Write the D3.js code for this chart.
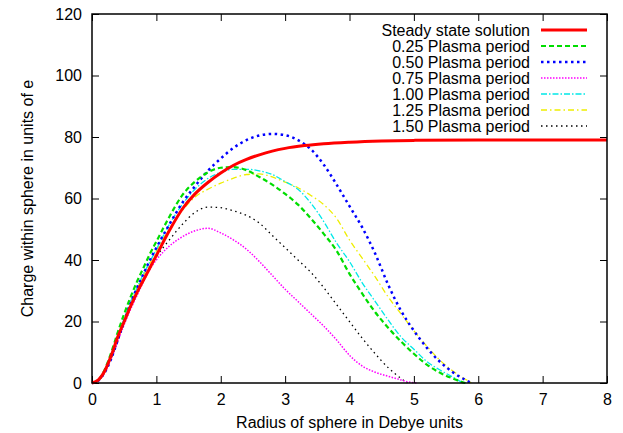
<!DOCTYPE html>
<html>
<head>
<meta charset="utf-8">
<script src="https://cdn.jsdelivr.net/npm/d3@7"></script>
<style>
  body { margin: 0; background: #fff; }
  text { font-family: "Liberation Sans", Arial, sans-serif; font-size: 16px; fill: #000; }
</style>
</head>
<body>
<div id="chart"></div>
<script>
// chart values: [radius, charge]
var xTicks = [0, 1, 2, 3, 4, 5, 6, 7, 8];
var yTicks = [0, 20, 40, 60, 80, 100, 120];
var labels = ["Steady state solution", "0.25 Plasma period", "0.50 Plasma period",
              "0.75 Plasma period", "1.00 Plasma period", "1.25 Plasma period", "1.50 Plasma period"];

var steady = [[0,0],[0.1,1],[0.2,4],[0.3,9],[0.4,15],[0.5,20],[0.6,25],[0.7,29.5],[0.8,33.5],[0.9,37.5],
  [1.0,41.5],[1.2,49.5],[1.4,56.5],[1.6,61.5],[1.8,65.2],[2.0,68.3],[2.2,70.8],[2.4,72.7],[2.6,74.2],
  [2.8,75.4],[3.0,76.3],[3.3,77.2],[3.6,77.8],[4.0,78.3],[4.5,78.7],[5,78.9],[6,79],[7,79],[8,79]];
var p025 = [[0,0],[0.1,1],[0.2,4.5],[0.3,10],[0.4,16.5],[0.5,22.5],[0.6,28],[0.7,33],[0.8,37.5],[0.9,42],
  [1.0,46],[1.2,54],[1.4,61],[1.6,65.5],[1.8,68.5],[2.0,70],[2.2,70.2],[2.4,69.2],[2.6,67],[2.8,64.5],
  [3.0,61.5],[3.2,58],[3.4,53.5],[3.6,48.5],[3.8,43],[4.0,35.5],[4.2,29],[4.4,23],[4.6,18],[4.8,13.5],
  [5.0,9.5],[5.2,6],[5.4,3.4],[5.6,1.5],[5.75,0.3],[5.8,0]];
var p050 = [[0,0],[0.1,0.8],[0.2,3.5],[0.3,8],[0.4,14],[0.5,20],[0.6,26],[0.7,31],[0.8,35.5],[0.9,40],
  [1.0,44],[1.2,51.5],[1.4,58.5],[1.6,64],[1.8,69],[2.0,73],[2.2,76.5],[2.4,79],[2.6,80.5],[2.8,81],
  [3.0,80.6],[3.2,79],[3.4,76],[3.6,71],[3.8,64.5],[4.0,57.5],[4.2,50.5],[4.4,42],[4.6,32],[4.8,23.5],
  [5.0,17],[5.2,11.5],[5.4,7],[5.6,3.6],[5.8,1],[5.9,0]];
var p075 = [[0,0],[0.1,0.8],[0.2,3.5],[0.3,8],[0.4,13.5],[0.5,19],[0.6,24],[0.7,28.5],[0.8,33],[0.9,37],
  [1.0,40],[1.2,44.5],[1.4,47.5],[1.6,49.5],[1.8,50.3],[2.0,48.8],[2.2,46.5],[2.4,43.5],[2.6,39.5],
  [2.8,35],[3.0,30.5],[3.2,26.5],[3.4,22.5],[3.6,18.5],[3.8,14],[4.0,9],[4.2,5.5],[4.4,3.5],[4.6,2.2],
  [4.8,1],[4.9,0.4],[5.05,0]];
var p100 = [[0,0],[0.1,1],[0.2,4],[0.3,9],[0.4,15],[0.5,21],[0.6,26.5],[0.7,31],[0.8,35.5],[0.9,39.5],
  [1.0,43.5],[1.2,51.5],[1.4,58],[1.6,63],[1.8,66.5],[2.0,68.5],[2.2,69.5],[2.4,69.5],[2.6,69],[2.8,67.8],
  [3.0,65.5],[3.2,63],[3.4,58.5],[3.6,52.5],[3.8,45.5],[4.0,39.5],[4.2,32.5],[4.4,26.5],[4.6,20.5],
  [4.8,15],[5.0,11],[5.2,7],[5.4,4.3],[5.6,2],[5.75,0.3],[5.8,0]];
var p125 = [[0,0],[0.1,0.8],[0.2,3.5],[0.3,8.5],[0.4,14.5],[0.5,20.5],[0.6,26],[0.7,30.5],[0.8,35],[0.9,39],
  [1.0,43],[1.2,50],[1.4,56],[1.6,60.5],[1.8,63],[2.0,65],[2.2,66.6],[2.4,67.8],[2.6,68],[2.8,67],
  [3.0,65.3],[3.2,63.5],[3.4,61],[3.6,58],[3.8,53.5],[4.0,46.5],[4.2,40.5],[4.4,34.5],[4.6,28],[4.8,22.5],
  [5.0,17],[5.2,12],[5.4,7.5],[5.6,4],[5.8,1.2],[5.9,0]];
var p150 = [[0,0],[0.1,0.8],[0.2,3.5],[0.3,8],[0.4,13.5],[0.5,19.5],[0.6,24.5],[0.7,29],[0.8,33.5],[0.9,37.5],
  [1.0,41],[1.2,46.5],[1.4,51.5],[1.6,55.5],[1.8,57.2],[2.0,57],[2.2,56],[2.4,54.5],[2.6,52],[2.8,48],
  [3.0,44],[3.2,40],[3.4,36],[3.6,31],[3.8,25.5],[4.0,20],[4.2,14.5],[4.4,9.5],[4.6,5],[4.8,1.5],[4.9,0]];

// style for each series, same order as labels
var styles = [
  {color: "#ff0000", width: 3,   dash: null},
  {color: "#00dd00", width: 2.2, dash: "5,3"},
  {color: "#0000ff", width: 2.5, dash: "2.5,3.5"},
  {color: "#ff00ff", width: 1.5, dash: "1.5,1.5"},
  {color: "#00e8e8", width: 1.3, dash: "6,2,1.5,2"},
  {color: "#eeee00", width: 1.3, dash: "6,3,1.5,3"},
  {color: "#000000", width: 1.3, dash: "1.5,3.5"}
];
var series = [steady, p025, p050, p075, p100, p125, p150];

var margin = {top: 14, right: 16, bottom: 50, left: 92};
var width = 623 - margin.left - margin.right;
var height = 433 - margin.top - margin.bottom;

var svg = d3.select("#chart").append("svg")
    .attr("width", 623)
    .attr("height", 433)
    .append("g")
    .attr("transform", "translate(" + margin.left + "," + margin.top + ")");

var xScale = d3.scaleLinear().domain([0, 8]).range([0, width]),
    yScale = d3.scaleLinear().domain([0, 120]).range([height, 0]);

// inward ticks on all four sides, like gnuplot
var tickLen = 7;
var xAxis = d3.axisBottom(xScale).tickValues(xTicks).tickSize(-tickLen).tickPadding(11),
    xAxis2 = d3.axisTop(xScale).tickValues(xTicks).tickSize(-tickLen).tickFormat(""),
    yAxis = d3.axisLeft(yScale).tickValues(yTicks).tickSize(-tickLen).tickPadding(10),
    yAxis2 = d3.axisRight(yScale).tickValues(yTicks).tickSize(-tickLen).tickFormat("");

function styleAxis(g) {
    g.select(".domain").remove();
    g.selectAll("line").attr("stroke", "#000").attr("stroke-width", 1);
    g.selectAll("text").style("font-size", "16px").style("font-family", "Liberation Sans, Arial, sans-serif");
}

svg.append("g").attr("transform", "translate(0," + height + ")").call(xAxis).call(styleAxis);
svg.append("g").call(xAxis2).call(styleAxis);
svg.append("g").call(yAxis).call(styleAxis);
svg.append("g").attr("transform", "translate(" + width + ",0)").call(yAxis2).call(styleAxis);

var line = d3.line()
    .x(function(d) { return xScale(d[0]); })
    .y(function(d) { return yScale(d[1]); })
    .curve(d3.curveMonotoneX);

// draw in reverse so the steady state line sits on top
for (var i = series.length - 1; i >= 0; i--) {
    svg.append("path")
        .attr("d", line(series[i]))
        .attr("fill", "none")
        .attr("stroke", styles[i].color)
        .attr("stroke-width", styles[i].width)
        .attr("stroke-dasharray", styles[i].dash);
}

svg.append("rect")
    .attr("width", width)
    .attr("height", height)
    .attr("fill", "none")
    .attr("stroke", "#000")
    .attr("stroke-width", 1.5);

// legend
var legend = svg.append("g").attr("transform", "translate(" + (530 - margin.left) + "," + (30 - margin.top) + ")");
labels.forEach(function(name, i) {
    var y = i * 16;
    legend.append("text")
        .attr("x", 0)
        .attr("y", y)
        .attr("dy", "0.35em")
        .attr("text-anchor", "end")
        .text(name);
    legend.append("line")
        .attr("x1", 11).attr("x2", 57)
        .attr("y1", y).attr("y2", y)
        .attr("stroke", styles[i].color)
        .attr("stroke-width", styles[i].width)
        .attr("stroke-dasharray", styles[i].dash);
});

svg.append("text")
    .attr("x", width / 2)
    .attr("y", 414)
    .attr("text-anchor", "middle")
    .text("Radius of sphere in Debye units");

svg.append("text")
    .attr("transform", "translate(" + (33 - margin.left) + "," + (height / 2) + ") rotate(-90)")
    .attr("text-anchor", "middle")
    .text("Charge within sphere in units of e");
</script>
</body>
</html>
